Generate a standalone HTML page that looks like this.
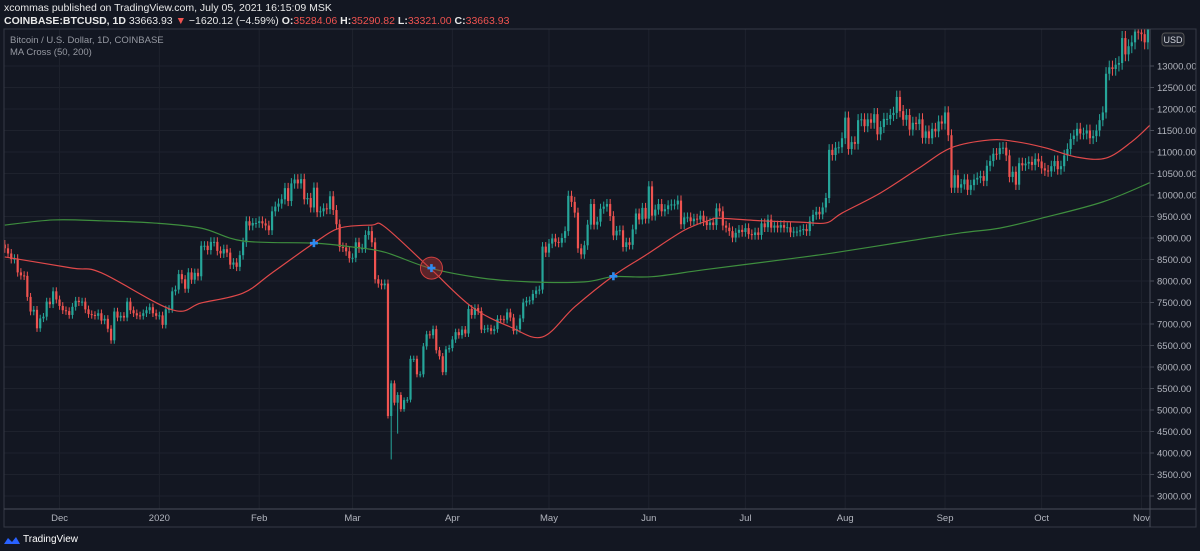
<!DOCTYPE html>
<html><head><meta charset="utf-8"><style>
body{margin:0;background:#131722;width:1200px;height:551px;overflow:hidden;font-family:"Liberation Sans",sans-serif}
.hdr{position:absolute;left:4px;color:#e8e8e8;font-size:10.5px;white-space:nowrap}
</style></head><body>
<div class="hdr" style="top:2px">xcommas published on TradingView.com, July 05, 2021 16:15:09 MSK</div>
<div class="hdr" style="top:15px;font-weight:bold">COINBASE:BTCUSD, 1D <span style="font-weight:normal">33663.93</span> <span style="color:#ef5350">▼</span> <span style="font-weight:normal">−1620.12 (−4.59%)</span> O:<span style="color:#ef5350;font-weight:normal">35284.06</span> H:<span style="color:#ef5350;font-weight:normal">35290.82</span> L:<span style="color:#ef5350;font-weight:normal">33321.00</span> C:<span style="color:#ef5350;font-weight:normal">33663.93</span></div>
<svg id="c" width="1200" height="551" style="position:absolute;left:0;top:0"></svg>
<script>
const closes=[8760,8640,8510,8520,8200,8130,8120,7630,7290,7330,6900,7130,7170,7520,7460,7760,7570,
7420,7320,7300,7210,7400,7540,7510,7520,7340,7230,7210,7190,7250,7080,7120,6890,6620,7290,7150,7190,7150,7520,7320,7250,7200,7190,7250,7320,7390,7250,7190,
7200,6980,7340,7350,7760,7800,8160,8040,7820,8200,8030,8190,8110,8820,8820,8720,8910,8910,8700,8640,8740,8660,8380,8430,8330,8600,8900,9390,9290,9350,9350,
9390,9340,9290,9180,9620,9730,9800,9900,10160,9860,10270,10360,10270,10370,9900,9930,9710,10170,9600,9620,9690,9670,9970,9650,9320,8790,8780,8690,8530,
8540,8900,8760,8760,9070,9160,8900,8040,7940,7900,7940,4860,5620,5170,5350,5020,5230,5240,6190,6190,5830,5830,6480,6760,6740,6880,6390,6250,5880,6410,6440,
6640,6810,6740,6870,6780,7350,7210,7370,7300,6870,6890,6900,6840,6880,7120,7110,7100,7270,7150,6840,6880,7130,7500,7540,7550,7700,7780,7800,8800,8660,
8870,8990,8910,8890,9000,9160,9980,9840,9590,8760,8620,8830,9310,9790,9310,9380,9680,9730,9790,9510,9060,9170,9180,8790,8900,8840,9200,9570,9430,9700,9450,
10200,9520,9660,9790,9620,9670,9760,9780,9780,9870,9320,9480,9480,9390,9450,9430,9520,9390,9300,9360,9300,9690,9620,9290,9240,9160,9010,9120,9190,9140,
9230,9090,9070,9130,9070,9340,9250,9430,9240,9290,9240,9300,9240,9250,9130,9150,9150,9180,9210,9160,9390,9540,9610,9550,9710,9930,11050,10930,11100,11110,11320,
11800,11070,11230,11190,11740,11760,11600,11760,11680,11880,11410,11580,11770,11770,11860,11910,12280,11950,11750,11860,11520,11680,11650,11760,11330,11480,11320,11540,11480,11710,11660,
11920,11390,10170,10460,10170,10250,10360,10120,10230,10360,10400,10440,10330,10680,10790,10960,10950,11090,11100,10920,10420,10540,10240,10740,10690,10730,10770,10700,10840,10780,
10620,10570,10550,10670,10790,10600,10670,10920,11070,11300,11380,11540,11430,11430,11500,11320,11370,11500,11740,11920,12820,12970,12930,13030,13070,13650,13270,13460,13550,13800,13780,
13740,13550,14030,14150];
const specialLowIdx=[120,122];
const specialLowVal=[3850,4450];
const ma50Idx=[0,21,30,52,61,74,83,96,104,114,118,132,145,157,167,177,189,199,211,219,222,235,247,255,260,272,284,294,306,314,323,333,342,350,356];
const ma50Val=[8560,8300,8190,7330,7490,7720,8190,8880,9230,9300,9260,8300,7400,6930,6700,7400,8120,8600,9180,9420,9460,9400,9370,9350,9580,10050,10630,11100,11280,11240,11100,10880,10860,11240,11650];
const ma200Idx=[0,15,30,46,61,74,96,108,118,132,148,163,180,189,201,217,241,257,279,297,309,322,341,356];
const ma200Val=[9300,9420,9400,9350,9230,8930,8880,8790,8670,8300,8070,7980,7980,8100,8100,8260,8490,8650,8910,9120,9230,9460,9840,10300];
const crossIdx=[96,132.5,189];
const crossVal=[8880,8300,8110];
const yTicks=[3000,3500,4000,4500,5000,5500,6000,6500,7000,7500,8000,8500,9000,9500,10000,10500,11000,11500,12000,12500,13000];
const monthLabels=["Dec","2020","Feb","Mar","Apr","May","Jun","Jul","Aug","Sep","Oct","Nov"];
const monthIdx=[17,48,79,108,139,169,200,230,261,292,322,353];

const NS="http://www.w3.org/2000/svg",svg=document.getElementById('c');
const L=4,R=1150,T=29,B=509;
const X=i=>3.3+3.22*i+1.5, Y=p=>109+(12000-p)*0.043;
function el(t,a,p){const e=document.createElementNS(NS,t);for(const k in a)e.setAttribute(k,a[k]);(p||svg).appendChild(e);return e;}
const clip=el('clipPath',{id:'pc'});el('rect',{x:L,y:T,width:R-L,height:B-T},clip);
yTicks.forEach(v=>{const g=el('line',{x1:L,x2:R,y1:Y(v),y2:Y(v),stroke:'#1e222d','stroke-width':1});


const t=el('text',{x:1157,y:Y(v)+3.5,fill:'#b2b5be','font-size':9.5,'font-family':'Liberation Sans'});t.textContent=v.toFixed(2);


el('line',{x1:R,x2:R+4,y1:Y(v),y2:Y(v),stroke:'#4a4e59'});});
monthIdx.forEach((m,k)=>{const g=el('line',{x1:X(m),x2:X(m),y1:T,y2:B,stroke:'#1e222d'});


const t=el('text',{x:X(m),y:521,fill:'#b2b5be','font-size':9.5,'text-anchor':'middle','font-family':'Liberation Sans'});t.textContent=monthLabels[k];

});
const g=el('g',{'clip-path':'url(#pc)'});


closes.forEach((c,i)=>{const o=i?closes[i-1]:c*1.01,up=c>=o,col=up?'#26a69a':'#ef5350';
let hi=Math.max(o,c)*1.012,lo=Math.min(o,c)*0.988;const s=specialLowIdx.indexOf(i);if(s>=0)lo=specialLowVal[s];
const x=X(i);el('line',{x1:x,x2:x,y1:Y(hi),y2:Y(lo),stroke:col,'stroke-width':1},g);
const b=el('rect',{x:x-1.1,y:Y(Math.max(o,c)),width:2.2,height:Math.max(1,Math.abs(Y(o)-Y(c))),fill:col},g);

});
function line(ix,vs,col,name){const P=ix.map((d,k)=>[X(d),Y(vs[k])]);let d='M'+P[0][0]+' '+P[0][1];
for(let k=0;k<P.length-1;k++){const p0=P[Math.max(0,k-1)],p1=P[k],p2=P[k+1],p3=P[Math.min(P.length-1,k+2)];
d+=` C${p1[0]+(p2[0]-p0[0])/6} ${p1[1]+(p2[1]-p0[1])/6} ${p2[0]-(p3[0]-p1[0])/6} ${p2[1]-(p3[1]-p1[1])/6} ${p2[0]} ${p2[1]}`;}
const p=el('path',{d:d,fill:'none',stroke:col,'stroke-width':1.2},g);

}
line(ma200Idx,ma200Val,'#3e8e3e','ma200-line');
line(ma50Idx,ma50Val,'#e0494a','ma50-line');
el('circle',{cx:X(crossIdx[1]),cy:Y(crossVal[1]),r:11,fill:'rgba(180,50,50,0.45)',stroke:'#d04040','stroke-width':1},g);
crossIdx.forEach((d,k)=>{const x=X(d),y=Y(crossVal[k]);
const m=el('path',{d:`M${x-4} ${y}H${x+4}M${x} ${y-4}V${y+4}`,stroke:'#2e8cf0','stroke-width':2.6},g);

});
el('rect',{x:L,y:T,width:1196-L,height:527-T,fill:'none',stroke:'#363a45'});
el('line',{x1:R,x2:R,y1:T,y2:527,stroke:'#4a4e59'});
el('line',{x1:L,x2:1196,y1:B,y2:B,stroke:'#4a4e59'});
el('rect',{x:1162,y:33,width:22,height:13,rx:3,fill:'#1e222d',stroke:'#555'});
const u=el('text',{x:1173,y:43,fill:'#d1d4dc','font-size':9,'text-anchor':'middle','font-family':'Liberation Sans'});u.textContent='USD';


</script>
<div style="position:absolute;left:10px;top:35px;color:#9598a1;font-size:9.5px;line-height:12px">Bitcoin / U.S. Dollar, 1D, COINBASE<br>MA Cross (50, 200)</div>
<div style="position:absolute;left:4px;top:534px;color:#fff;font-size:10px;display:flex;align-items:center">
<svg width="16" height="10" style="margin-right:3px"><path d="M0 9 L4 3 L8 7 L12 2 L16 9 Z" fill="#2962ff"/></svg>TradingView</div>
</body></html>
